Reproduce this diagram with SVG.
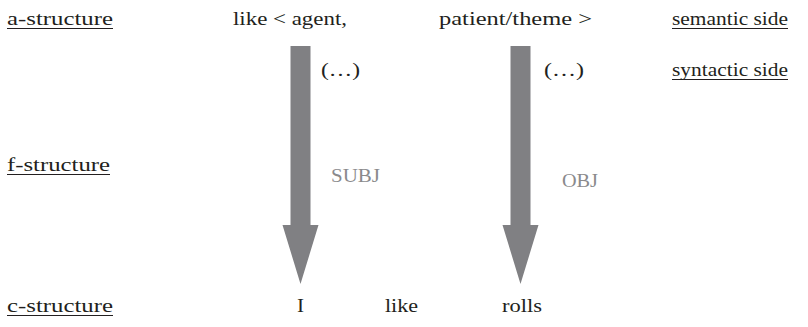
<svg xmlns="http://www.w3.org/2000/svg" width="808" height="327" viewBox="0 0 808 327">
<style>
text{font-family:'Liberation Serif','Times New Roman',serif;font-size:19px;fill:#231f20}
.g{fill:#8a8a8c}
.u{stroke:#231f20;stroke-width:1.2}
.arr{fill:#808083}
</style>
<rect width="808" height="327" fill="#fff"/>
<g id="connectors">
<polygon class="arr" points="290.5,46 310.5,46 310.5,225 318.5,225 300.5,284 282.5,225 290.5,225"/>
<polygon class="arr" points="510.5,46 530.5,46 530.5,225 538.5,225 520.5,284 502.5,225 510.5,225"/>
</g>
<g id="a-structure"><text x="7" y="25" textLength="106" lengthAdjust="spacingAndGlyphs">a-structure</text><line class="u" x1="7" y1="28.5" x2="113" y2="28.5"/></g>
<g id="like-agent"><text x="233" y="25" textLength="114" lengthAdjust="spacingAndGlyphs">like &lt; agent,</text></g>
<g id="patient-theme"><text x="439" y="25" textLength="153" lengthAdjust="spacingAndGlyphs">patient/theme &gt;</text></g>
<g id="semantic-side"><text x="672" y="25" textLength="116" lengthAdjust="spacingAndGlyphs">semantic side</text><line class="u" x1="672" y1="28.5" x2="788" y2="28.5"/></g>
<g id="ellipsis1"><text x="321" y="76" textLength="39" lengthAdjust="spacingAndGlyphs">(…)</text></g>
<g id="ellipsis2"><text x="544" y="76" textLength="40" lengthAdjust="spacingAndGlyphs">(…)</text></g>
<g id="syntactic-side"><text x="672" y="76" textLength="116" lengthAdjust="spacingAndGlyphs">syntactic side</text><line class="u" x1="672" y1="79.5" x2="788" y2="79.5"/></g>
<g id="f-structure"><text x="7" y="171" textLength="103" lengthAdjust="spacingAndGlyphs">f-structure</text><line class="u" x1="7" y1="174.5" x2="110" y2="174.5"/></g>
<g id="subj"><text class="g" x="331" y="182" textLength="49" lengthAdjust="spacingAndGlyphs">SUBJ</text></g>
<g id="obj"><text class="g" x="562" y="187" textLength="36" lengthAdjust="spacingAndGlyphs">OBJ</text></g>
<g id="c-structure"><text x="7" y="312" textLength="106" lengthAdjust="spacingAndGlyphs">c-structure</text><line class="u" x1="7" y1="315.5" x2="113" y2="315.5"/></g>
<g id="word-I"><text x="297" y="312" textLength="7" lengthAdjust="spacingAndGlyphs">I</text></g>
<g id="word-like"><text x="385" y="312" textLength="33" lengthAdjust="spacingAndGlyphs">like</text></g>
<g id="word-rolls"><text x="502" y="312" textLength="40" lengthAdjust="spacingAndGlyphs">rolls</text></g>
</svg>
